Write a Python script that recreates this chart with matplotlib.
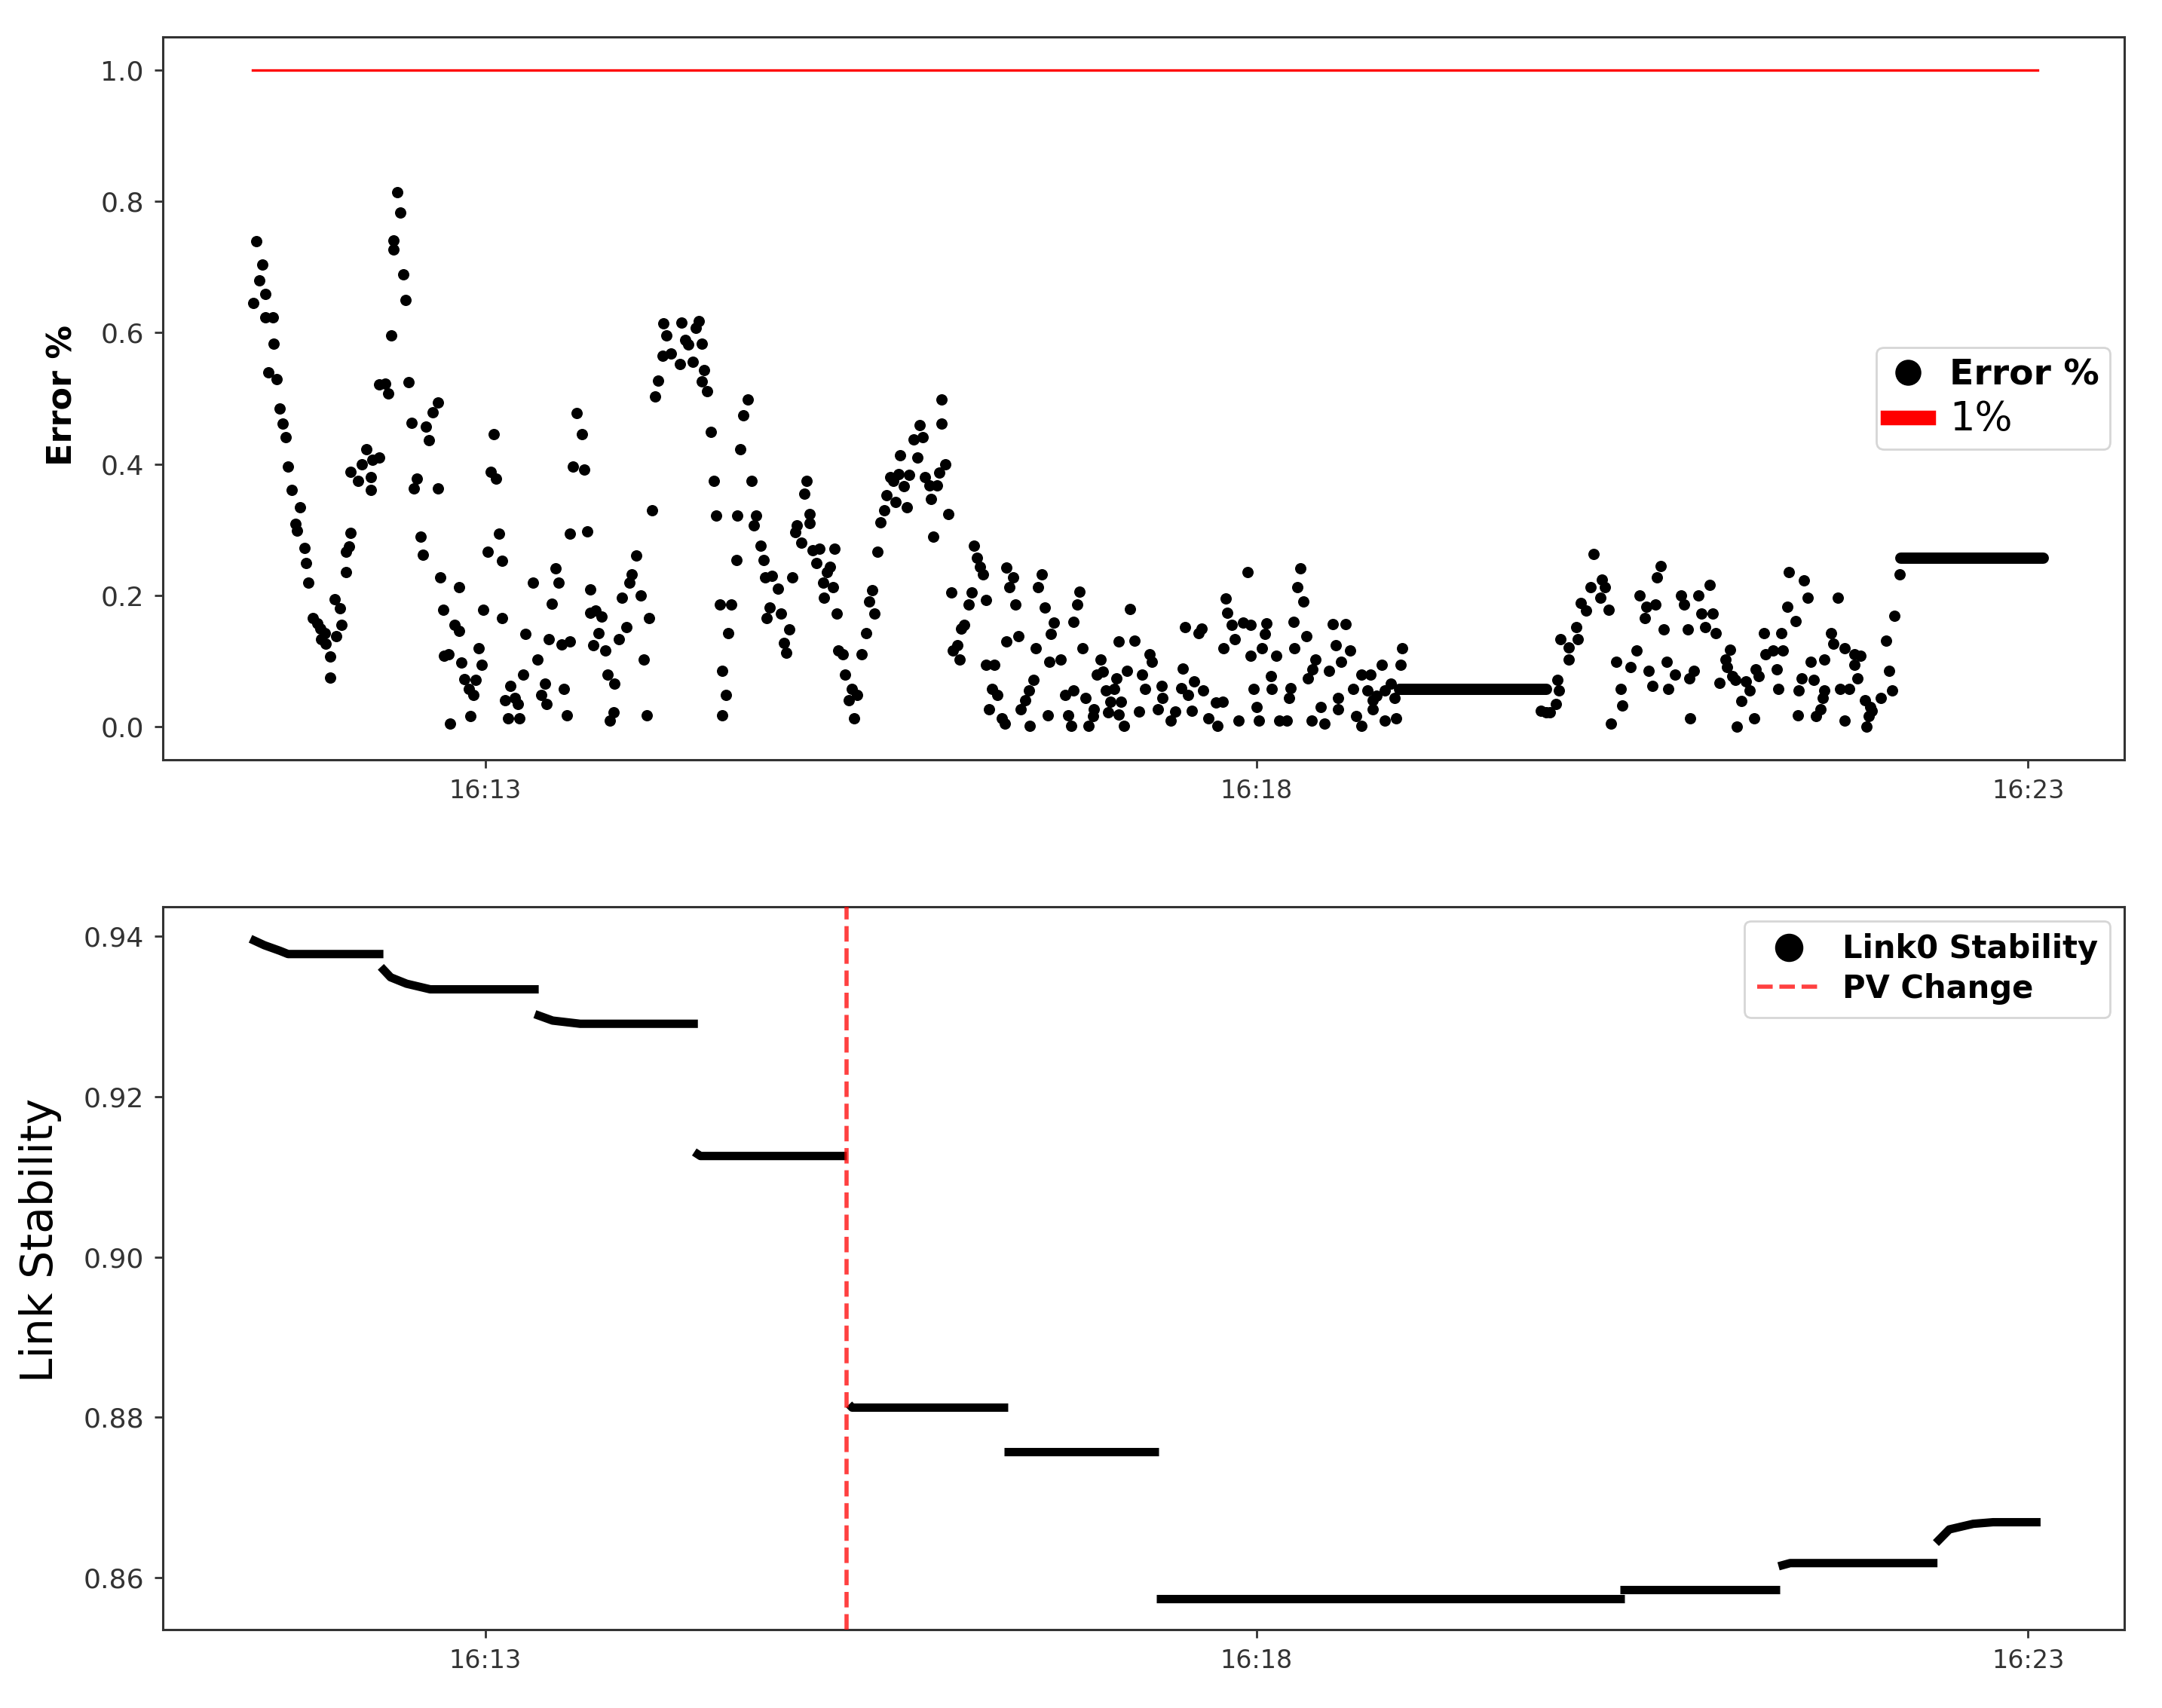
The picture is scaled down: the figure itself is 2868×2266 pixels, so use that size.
import datetime as dt
import matplotlib
matplotlib.use("Agg")
import matplotlib.pyplot as plt
from matplotlib.lines import Line2D

# ---------------- data (times in seconds after 16:11:00) ----------------
err_a = [(31.1,.739),(33.3,.703),(32.2,.680),(34.4,.659),(29.9,.645),(34.4,.623),(37.3,.623),(37.8,.583),
 (35.6,.539),(38.9,.529),(40.1,.485),(41.2,.461),(42.3,.441),(43.4,.396),(44.6,.360),(47.9,.334),(46.2,.309),
 (46.8,.299),(49.6,.272),(50.2,.249),(51.3,.219),(53.0,.166),(54.7,.158),(55.8,.149),(57.5,.143),(56.3,.133),
 (58.0,.127),(59.7,.107),(59.7,.075),(61.4,.194),(63.6,.180),(64.2,.155),(62.0,.138),(67.6,.295),(67.0,.274),
 (65.9,.266),(65.9,.235),(67.6,.388),(70.4,.374),(72.1,.399),(73.8,.422),(76.0,.407),(78.8,.410),(75.4,.380),
 (75.4,.361),(81.1,.522),(82.2,.507),(78.8,.521),(83.3,.596),(84.4,.740),(84.4,.726),(85.8,.814),(86.9,.783),
 (88.1,.689),(89.1,.650),(90.3,.525),(91.4,.463),(96.8,.457),(99.6,.479),(101.5,.494),(98.2,.436),(93.4,.378),
 (92.3,.363),(101.6,.363),(94.8,.289),(95.9,.262),(102.6,.227),(109.7,.213),(103.7,.178),(108.2,.155),
 (109.7,.146),(105.8,.110),(104.1,.108),(110.8,.098),(111.9,.073),(113.6,.058),(115.3,.049),(116.4,.072),
 (118.7,.094),(117.5,.120),(114.2,.017),(106.3,.005),(119.2,.178),(120.9,.267),(126.5,.253),(125.4,.294),
 (123.2,.445),(122.0,.388),(124.3,.378),(126.5,.165),(129.9,.062),(127.7,.041),(131.6,.044),(132.7,.035),
 (128.8,.013),(133.3,.013),(135.5,.142),(134.7,.080),(138.5,.220),(140.3,.102),(141.7,.049),(143.4,.066),
 (143.9,.035),(144.8,.134),(146.0,.187),(147.3,.241),(148.4,.219),(149.6,.125),(152.9,.130),(150.7,.058),
 (151.8,.018),(152.9,.294),(159.7,.297),(154.0,.396),(158.5,.391),(157.6,.445),(155.7,.477),(160.8,.209),
 (160.8,.174),(163.0,.177),(165.3,.168),(164.2,.143),(161.9,.124),(166.6,.116),(167.5,.080),(170.3,.066),
 (169.8,.022),(168.6,.010),(172.0,.134),(174.8,.152),(173.1,.196),(176.0,.219),(177.1,.232),(178.8,.261),
 (180.4,.200),(183.8,.165),(181.6,.102),(182.7,.018),(184.9,.330),(186.1,.503),(187.2,.527),(189.4,.614),
 (190.5,.596),(188.9,.565),(192.2,.568)]

err_b = [(196.2,.615),(203.0,.617),(201.8,.607),(197.9,.589),(199.0,.582),(204.1,.583),(195.7,.552),(200.7,.556),
 (205.2,.543),(204.1,.526),(206.3,.511),(207.7,.449),(208.8,.374),(209.9,.321),(211.2,.186),(215.7,.186),
 (214.5,.143),(212.2,.085),(213.6,.049),(212.2,.018),(222.0,.498),(220.4,.474),(219.2,.422),(223.7,.374),
 (217.9,.321),(217.6,.254),(225.4,.321),(224.5,.307),(227.1,.276),(228.2,.254),(228.8,.227),(231.6,.230),
 (233.8,.210),(239.5,.227),(230.5,.182),(229.4,.165),(235.0,.173),(238.3,.148),(236.1,.128),(237.2,.113),
 (245.1,.374),(244.0,.355),(246.2,.324),(246.2,.310),(241.1,.307),(240.6,.296),(242.8,.280),(247.3,.269),
 (250.1,.271),(248.8,.249),(255.7,.271),(254.1,.244),(252.9,.235),(251.3,.219),(255.2,.213),(251.8,.196),
 (256.6,.173),(257.4,.116),(259.1,.110),(260.0,.080),(262.5,.058),(264.7,.049),(261.4,.040),(263.6,.013),
 (266.4,.110),(268.1,.143),(269.2,.191),(270.6,.208),(271.5,.173),(272.6,.267),(273.7,.311),(275.1,.330),
 (276.0,.352),(277.6,.380),(278.8,.374),(280.7,.385),(281.3,.413),(279.5,.342),(282.7,.366),(284.9,.383),
 (284.0,.334),(286.6,.437),(288.9,.459),(290.0,.441),(288.1,.410),(291.1,.380),(292.8,.368),(295.6,.368),
 (296.7,.387),(299.0,.400),(293.4,.347),(294.1,.289),(300.1,.324),(297.6,.498),(297.6,.462),(301.2,.205),
 (310.2,.276),(311.3,.257),(312.5,.244),(313.6,.232),(309.1,.205),(308.0,.186),(314.7,.193),(306.3,.155),
 (305.2,.149),(303.5,.124),(301.8,.116),(304.6,.102),(314.7,.094),(318.1,.094),(317.0,.058),(319.2,.048),
 (315.8,.027),(320.9,.013),(322.0,.005),(322.8,.242),(325.4,.227),(323.9,.213),(326.2,.186),(322.6,.130),
 (327.4,.138),(336.6,.232),(335.1,.213),(337.5,.182),(334.1,.120),(341.1,.159),(340.0,.141),(339.4,.099),
 (343.9,.102),(333.2,.072),(331.5,.055),(329.9,.041),(328.2,.027),(331.8,.001),(338.8,.018),(351.2,.206),
 (350.1,.186),(348.9,.160),(352.3,.120),(345.6,.049),(348.9,.055),(353.4,.044),(346.7,.018),(347.8,.002),
 (354.6,.001),(359.3,.102),(360.2,.084),(358.0,.080),(356.8,.027),(356.3,.016),(361.3,.055),(364.7,.058),
 (363.0,.038),(362.4,.022)]

err_c = [(366.5,.130),(370.8,.179),(372.4,.131),(378.3,.110),(379.4,.099),(369.7,.085),(375.5,.080),(365.4,.074),
 (376.6,.058),(367.1,.038),(366.5,.019),(368.5,.001),(374.2,.023),(383.1,.062),(383.4,.044),(381.7,.027),
 (386.7,.010),(388.4,.023),(392.1,.152),(397.4,.143),(398.5,.149),(391.2,.089),(390.7,.059),(393.3,.049),
 (395.7,.069),(399.1,.055),(394.8,.024),(401.3,.013),(404.7,.001),(404.1,.037),(406.9,.038),(408.1,.195),
 (408.6,.174),(410.3,.155),(414.8,.159),(417.6,.155),(416.5,.236),(411.4,.134),(407.2,.120),(417.6,.108),
 (422.1,.120),(423.8,.158),(423.2,.141),(418.7,.058),(419.9,.030),(425.5,.077),(426.0,.058),(427.7,.108),
 (413.1,.009),(421.0,.009),(428.9,.009),(431.7,.009),(432.6,.044),(433.3,.059),(434.5,.160),(434.8,.120),
 (436.9,.241),(435.9,.213),(438.2,.191),(439.3,.138),(442.9,.102),(441.8,.088),(440.1,.074),(448.3,.085),
 (444.9,.030),(441.5,.009),(446.3,.005),(449.6,.156),(454.7,.156),(450.8,.124),(456.4,.116),(453.0,.099),
 (451.6,.044),(451.6,.027),(457.5,.058),(458.6,.016),(460.9,.080),(464.2,.080),(463.1,.055),(465.3,.041),
 (468.7,.094),(476.0,.094),(476.6,.120),(465.3,.027),(466.5,.047),(469.8,.055),(472.1,.066),(473.8,.044),
 (469.8,.010),(474.3,.013),(460.9,.002),(530.5,.024),(532.5,.022),(534.0,.022)]

err_d = [(536.9,.072),(537.6,.055),(536.3,.035),(538.2,.133),(541.3,.121),(541.3,.102),(545.0,.133),(544.3,.152),
 (546.2,.188),(548.1,.177),(549.9,.213),(554.2,.224),(555.5,.213),(553.6,.196),(556.9,.178),(551.1,.263),
 (559.8,.099),(565.3,.091),(567.8,.116),(561.6,.058),(562.3,.033),(557.9,.005),(569.0,.200),(571.5,.183),
 (575.2,.186),(570.9,.165),(577.1,.245),(575.8,.227),(578.3,.148),(572.5,.085),(574.0,.062),(579.5,.099),
 (582.6,.080),(580.2,.058),(585.1,.200),(586.3,.186),(591.9,.200),(596.2,.216),(593.1,.173),(597.5,.173),
 (587.6,.148),(594.4,.152),(598.7,.143),(588.2,.074),(590.0,.085),(588.6,.013),(599.9,.067),(604.2,.117),
 (602.4,.102),(603.0,.091),(604.9,.077),(606.1,.072),(610.4,.069),(611.7,.055),(608.6,.039),(614.1,.088),
 (615.4,.077),(606.7,.000),(613.5,.013),(617.2,.143),(624.0,.143),(617.8,.110),(620.9,.116),(624.6,.116),
 (622.2,.088),(622.8,.058),(627.1,.236),(633.0,.223),(634.3,.196),(626.5,.183),(629.6,.161),(635.5,.099),
 (636.7,.072),(632.0,.074),(630.8,.055),(630.5,.018),(640.7,.055),(640.1,.044),(639.4,.027),(637.6,.016),
 (640.7,.102),(646.2,.196),(643.4,.143),(644.4,.127),(648.7,.120),(652.4,.110),(654.9,.108),(652.4,.094),
 (653.6,.074),(646.9,.058),(650.6,.058),(648.7,.009),(656.7,.041),(658.6,.030),(659.2,.024),(658.0,.016),
 (657.3,.000),(662.9,.044),(667.2,.055),(666.0,.085),(664.8,.131),(668.1,.169),(670.1,.232)]

# flat stretches of Error % (start s, end s, value)
plateaus = [(475.5, 532.7, 0.058), (670.3, 725.9, 0.257)]

# 1 % reference line
ref_t = [29.6, 723.8]
ref_v = [1.0, 1.0]

# Link0 stability segments: (seconds, value) key points
stab_segments = [
    [(28.7, .9397), (34.1, .9389), (40.2, .9382), (43.3, .9378), (80.4, .9378)],
    [(79.4, .9362), (83.2, .9349), (89.4, .9341), (98.6, .9334), (140.8, .9334)],
    [(139.3, .9303), (146.2, .9295), (156.9, .9291), (202.7, .9291)],
    [(201.3, .9131), (203.7, .9126), (260.6, .9126)],
    [(261.5, .8816), (262.7, .8812), (323.4, .8812)],
    [(321.8, .8757), (382.0, .8757)],
    [(381.1, .8574), (563.2, .8574)],
    [(561.2, .8585), (623.6, .8585)],
    [(623.0, .8614), (627.5, .8618), (684.8, .8618)],
    [(684.2, .8643), (689.4, .8660), (698.7, .8667), (706.4, .8669), (724.9, .8669)],
]
pv_change_t = 260.6

xlim_s = (-5.4, 757.5)
tick_labels = ["16:13", "16:18", "16:23"]

# ---------------- helpers ----------------
base = dt.datetime(2021, 1, 1, 16, 11, 0)
def T(secs):
    return [base + dt.timedelta(seconds=float(s)) for s in secs]

err = err_a + err_b + err_c + err_d
err_t = [p[0] for p in err]
err_v = [p[1] for p in err]

plt.rcParams['font.family'] = ['DejaVu Sans']

fig = plt.figure(figsize=(14.34, 11.33), dpi=200)
ax1 = fig.add_axes([0.0753, 0.5552, 0.9073, 0.4232])
ax2 = fig.add_axes([0.0753, 0.0459, 0.9073, 0.4232])

# ---- top panel ----
ax1.plot(T(err_t), err_v, 'o', color='k', ms=5.4, mec='none', label='Error %', zorder=3)
for t0, t1, v in plateaus:
    ax1.plot(T([t0, t1]), [v, v], '-', color='k', lw=5.4, solid_capstyle='round', zorder=3)
ax1.plot(T(ref_t), ref_v, '-', color='red', lw=1.2, label='1%', zorder=2)
ax1.set_ylim(-0.05, 1.05)
ax1.set_yticks([0.0, 0.2, 0.4, 0.6, 0.8, 1.0])
ax1.set_ylabel('Error %', fontsize=16, fontweight='bold')
ax1.yaxis.set_label_coords(-0.043, 0.504)

leg1 = ax1.legend(loc='center right', fontsize=17, markerscale=2.3, borderpad=0.3,
                  labelspacing=0.2, handlelength=1.15, handletextpad=0.6,
                  borderaxespad=0.4)
txts = leg1.get_texts()
txts[0].set_fontweight('bold')
txts[1].set_fontsize(19)
lines = leg1.get_lines()
lines[1].set_linewidth(7)

# ---- bottom panel ----
for seg in stab_segments:
    ts = [p[0] for p in seg]
    vs = [p[1] for p in seg]
    ax2.plot(T(ts), vs, '-', color='k', lw=4.0, solid_capstyle='butt', zorder=3)
vline = ax2.axvline(T([pv_change_t])[0], color='red', ls='--', lw=2.0, alpha=0.75, zorder=4)
ax2.set_ylim(0.8535, 0.9437)
ax2.set_yticks([0.86, 0.88, 0.90, 0.92, 0.94])
ax2.set_ylabel('Link Stability', fontsize=21)
ax2.yaxis.set_label_coords(-0.0515, 0.539)
proxy = Line2D([], [], ls='none', marker='o', color='k', ms=12.5)
ax2.legend([proxy, vline], ['Link0 Stability', 'PV Change'], loc='upper right',
           prop={'weight': 'bold', 'size': 15}, labelspacing=0.25, borderaxespad=0.45,
           handletextpad=0.7)

for ax in (ax1, ax2):
    ax.set_xlim(T(xlim_s))
    ticks = [dt.datetime(2021, 1, 1, 16, m, 0) for m in (13, 18, 23)]
    ax.set_xticks(ticks)
    ax.set_xticklabels(tick_labels, fontsize=12)
    ax.tick_params(axis='y', labelsize=13)
    ax.tick_params(colors='#333333', length=4, width=1.0, pad=5)
    for sp in ax.spines.values():
        sp.set_color('#333333')
        sp.set_linewidth(1.1)

fig.savefig('out.png', dpi=200)
